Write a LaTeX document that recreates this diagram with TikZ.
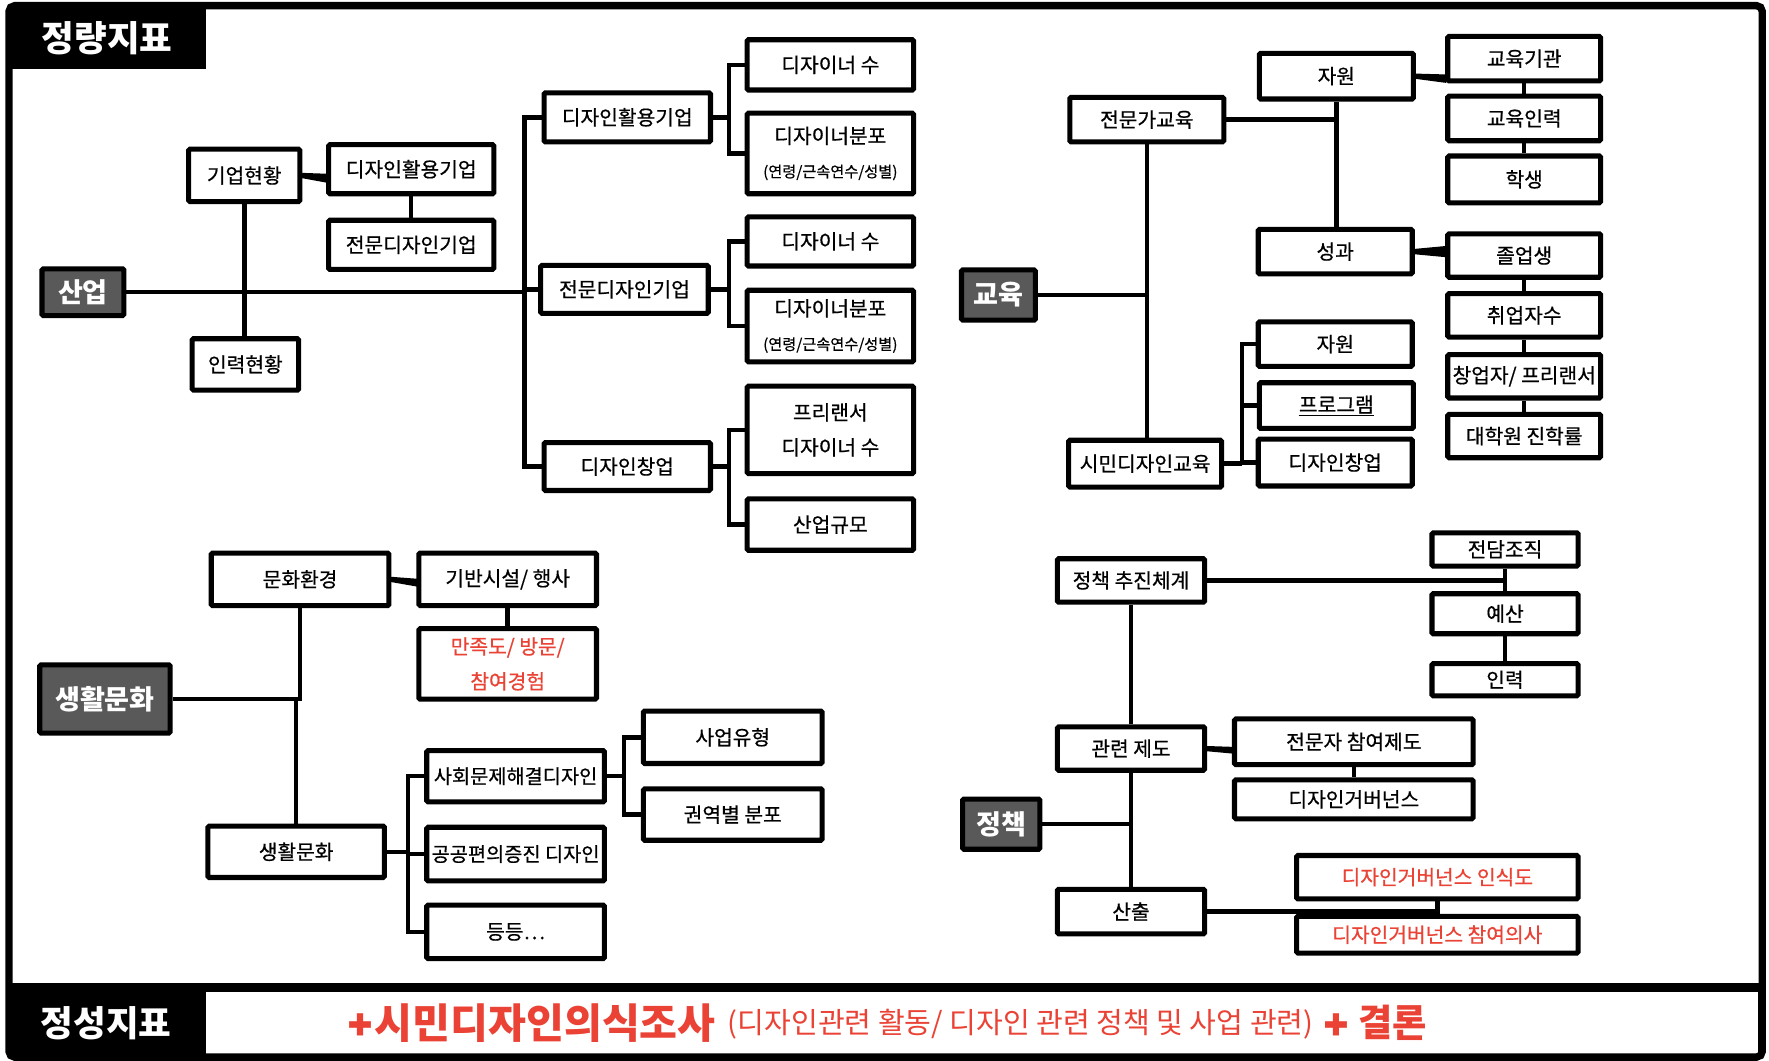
\documentclass[tikz,border=0pt]{standalone}
\usepackage{fontspec}
\setmainfont{Noto Sans CJK KR}
\newfontfamily\boxfont{Noto Sans CJK KR}[FakeBold=0.6]
\newfontfamily\symfont{DejaVu Sans}[FakeBold=1.5]
\usetikzlibrary{calc}
\definecolor{redtxt}{RGB}{234,66,52}
\definecolor{darkbox}{RGB}{89,89,89}
% box by outer extents: [opts]{name}{x1}{y1}{x2}{y2}{text}
\newcommand\bx[7][]{\node[box,#1,minimum width={#5-#3-4.5},minimum height={#6-#4-4.5}] (#2) at ({(#3+#5)/2},{(#4+#6)/2}) {#7};}
% wedge-shaped short link from #1 (east) to #2 (west)
\newcommand\wedgec[4]{\fill ($(#1.east)+(-1,-2.3)$) -- ($(#2.west|-#1.east)+(1,#3)$) -- ($(#2.west|-#1.east)+(1,#4)$) -- ($(#1.east)+(-1,2.3)$) -- cycle;}
\begin{document}
\begin{tikzpicture}[x=1pt,y=-1pt,
  box/.style={draw, line width=4.5pt, fill=white, rounded corners=1.2pt, inner sep=0pt, align=center, font=\boxfont\fontsize{18}{21}\selectfont},
  dark/.style={fill=darkbox, text=white, font=\fontsize{24}{27}\selectfont\bfseries},
  conn/.style={line width=4pt},
  bigtitle/.style={text=white, inner sep=0pt, font=\fontsize{31.5}{35}\selectfont\bfseries},
  rtx/.style={text=redtxt, inner sep=0pt, anchor=west}
]
\useasboundingbox (0,0) rectangle (1568,940);
\fill[white] (0,0) rectangle (1568,940);

% frame, title tab, bottom strip
\fill (8,5) rectangle (182.5,61);
\fill (8,871.5) rectangle (1562,937);
\fill[white] (182.5,879) rectangle (1558.5,934.5);
\draw[line width=6.5pt, rounded corners=5pt] (8,5) rectangle (1562,937);
\node[bigtitle] (tq) at (95,34) {정량지표};
\node[bigtitle] (tl) at (94,907) {정성지표};

% ---------- industry ----------
\bx[dark]{sanup}{35}{236}{112}{282}{산업}
\bx{gh}{165}{130}{268}{181}{기업현황}
\bx{dhs}{289}{126}{440}{174}{디자인활용기업}
\bx{jds}{289}{193}{440}{241}{전문디자인기업}
\bx{ir}{168}{298}{267}{348}{인력현황}
\bx{dhb}{480}{80}{632}{128}{디자인활용기업}
\bx{jdb}{477}{233}{630}{280}{전문디자인기업}
\bx{dcu}{480}{390}{632}{437}{디자인창업}
\bx{dsa}{660}{33}{812}{82}{디자이너 수}
\bx[font=\boxfont\fontsize{18}{30}\selectfont]{dpa}{660}{98}{812}{174}{디자이너분포\\{\fontsize{13.5}{30}\selectfont(연령/근속연수/성별)}}
\bx{dsb}{660}{190}{812}{238}{디자이너 수}
\bx[font=\boxfont\fontsize{18}{30}\selectfont]{dpb}{660}{255}{812}{323}{디자이너분포\\{\fontsize{13.5}{30}\selectfont(연령/근속연수/성별)}}
\bx[font=\boxfont\fontsize{18}{31}\selectfont]{fr}{660}{340}{812}{422}{프리랜서\\디자이너 수}
\bx{sgm}{660}{440}{812}{490}{산업규모}

\coordinate (bI) at (465,0);
\coordinate (bA) at (646,0);
\draw[conn] (sanup.east) -- (bI |- sanup.east);
\draw[conn] (dhb.west) -| (bI |- dcu.west) -- (dcu.west);
\draw[conn] (jdb.west) -- (bI |- jdb.west);
\draw[conn] (gh.south) -- (gh.south |- ir.north);
\draw[conn] (dhs.south) -- (dhs.south |- jds.north);
\wedgec{gh}{dhs}{-1.5}{6.5}
\draw[conn] (dsa.west) -| (bA |- dpa.west) -- (dpa.west);
\draw[conn] (dhb.east) -- (bA |- dhb.east);
\draw[conn] (dsb.west) -| (bA |- dpb.west) -- (dpb.west);
\draw[conn] (jdb.east) -- (bA |- jdb.east);
\draw[conn] (fr.west) -| (bA |- sgm.west) -- (sgm.west);
\draw[conn] (dcu.east) -- (bA |- dcu.east);

% ---------- education ----------
\bx[dark]{edu}{850}{237}{920}{286}{교육}
\bx{jg}{946}{84}{1087}{128}{전문가교육}
\bx{sm}{945}{388}{1085}{434}{시민디자인교육}
\bx{ja}{1114}{45}{1255}{90}{자원}
\bx{sgw}{1113}{201}{1254}{245}{성과}
\bx{gg}{1281}{30}{1421}{74}{교육기관}
\bx{gi}{1281}{83}{1421}{127}{교육인력}
\bx{hs}{1281}{136}{1421}{182}{학생}
\bx{jo}{1281}{205}{1421}{248}{졸업생}
\bx{cw}{1281}{258}{1421}{301}{취업자수}
\bx{cc}{1281}{312}{1421}{355}{\makebox[0pt]{창업자/ 프리랜서}}
\bx{dw}{1281}{365}{1421}{408}{대학원 진학률}
\bx{jab}{1113}{283}{1254}{327}{자원}
\bx{pg}{1114}{337}{1255}{382}{\underline{프로그램}}
\bx{dcb}{1113}{387}{1254}{433}{디자인창업}

\draw[conn] (edu.east) -- (jg.south |- edu.east);
\draw[conn] (jg.south) -- (jg.south |- sm.north);
\draw[conn] (jg.east) -- (ja.south |- jg.east);
\draw[conn] (ja.south) -- (ja.south |- sgw.north);
\wedgec{ja}{gg}{-1.5}{6}
\wedgec{sgw}{jo}{-5}{5}
\draw[conn] (gg.south) -- (gg.south |- gi.north);
\draw[conn] (gi.south) -- (gi.south |- hs.north);
\draw[conn] (jo.south) -- (jo.south |- cw.north);
\draw[conn] (cw.south) -- (cw.south |- cc.north);
\draw[conn] (cc.south) -- (cc.south |- dw.north);
\coordinate (bC) at (1101,0);
\draw[conn] (jab.west) -| (bC |- dcb.west) -- (dcb.west);
\draw[conn] (pg.west) -- (bC |- pg.west);
\draw[conn] (sm.east) -- (bC |- sm.east);

% ---------- living culture ----------
\bx[dark]{lcd}{33}{587}{153}{652}{생활문화}
\bx{mh}{185}{488}{347}{539}{문화환경}
\bx{gb}{369}{488}{531}{539}{기반시설/ 행사}
\bx[text=redtxt,font=\boxfont\fontsize{18}{31}\selectfont]{mj}{369}{555}{531}{622}{만족도/ 방문/\\참여경험}
\bx{lc}{182}{730}{343}{780}{생활문화}
\bx[font=\boxfont\fontsize{17.5}{20}\selectfont]{sh}{376}{663}{538}{713}{\makebox[0pt]{사회문제해결디자인}}
\bx[font=\boxfont\fontsize{17.5}{20}\selectfont]{gp}{376}{731}{538}{783}{\makebox[0pt]{공공편의증진 디자인}}
\bx{dd}{376}{800}{538}{852}{등등…}
\bx{sy}{568}{628}{731}{679}{사업유형}
\bx{gy}{568}{697}{731}{747}{권역별 분포}

\draw[conn] (lcd.east) -| (mh.south);
\draw[conn] (lc.north) -- (lc.north |- lcd.east);
\wedgec{mh}{gb}{-0.5}{6.5}
\draw[conn] (gb.south) -- (gb.south |- mj.north);
\coordinate (bL) at (361.5,0);
\draw[conn] (sh.west) -| (bL |- dd.west) -- (dd.west);
\draw[conn] (gp.west) -- (bL |- gp.west);
\draw[conn] (lc.east) -- (bL |- lc.east);
\coordinate (bM) at (553,0);
\draw[conn] (sy.west) -| (bM |- gy.west) -- (gy.west);
\draw[conn] (sh.east) -- (bM |- sh.east);

% ---------- policy ----------
\bx[dark]{pol}{851}{706}{924}{755}{정책}
\bx{pc}{935}{493}{1070}{536}{정책 추진체계}
\bx{gr}{935}{642}{1070}{685}{관련 제도}
\bx{sc}{935}{786}{1070}{830}{산출}
\bx{jd}{1267}{470}{1401}{504}{전담조직}
\bx{ys}{1267}{524}{1401}{564}{예산}
\bx{irb}{1267}{586}{1401}{619}{인력}
\bx{jc}{1092}{635}{1308}{680}{전문자 참여제도}
\bx{dg}{1092}{689}{1308}{728}{디자인거버넌스}
\bx[text=redtxt]{is}{1147}{756}{1401}{799}{디자인거버넌스 인식도}
\bx[text=redtxt]{cy}{1147}{810}{1401}{847}{디자인거버넌스 참여의사}

\draw[conn] (pc.south) -- (pc.south |- gr.north);
\draw[conn] (gr.south) -- (gr.south |- sc.north);
\draw[conn] (pol.east) -- (gr.south |- pol.east);
\draw[conn] (pc.east) -- (jd.south |- pc.east);
\draw[conn] (jd.south) -- (jd.south |- ys.north);
\draw[conn] (ys.south) -- (ys.south |- irb.north);
\wedgec{gr}{jc}{-1.5}{4.5}
\draw[conn] (jc.south) -- (jc.south |- dg.north);
\draw[conn] (sc.east) -- (is.south |- sc.east);
\draw[conn] (is.south) -- (is.south |- cy.north);

% ---------- bottom text ----------
\node[rtx, font=\symfont\fontsize{26}{30}\selectfont] (crA) at (308,908) {✚};
\node[rtx, font=\fontsize{36.5}{40}\selectfont\bfseries] (sv) at (332,907) {시민디자인의식조사};
\node[rtx, font=\fontsize{25.8}{30}\selectfont] (pr) at (645,908) {(디자인관련 활동/ 디자인 관련 정책 및 사업 관련)};
\node[rtx, font=\symfont\fontsize{26}{30}\selectfont] (crB) at (1173,908) {✚};
\node[rtx, font=\fontsize{33}{37}\selectfont\bfseries] (gl) at (1204,907) {결론};
\end{tikzpicture}
\end{document}
